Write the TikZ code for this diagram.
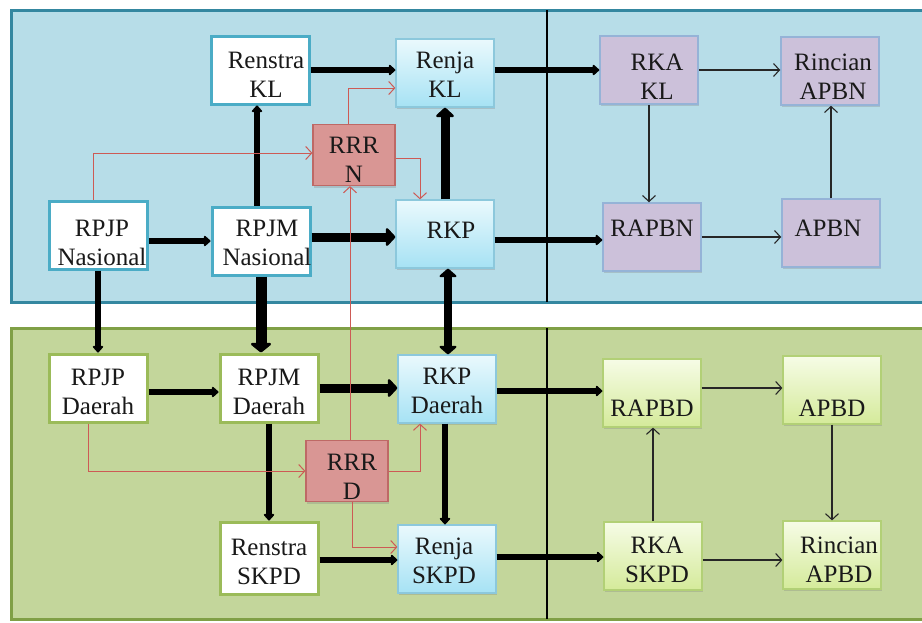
\documentclass[tikz,border=0pt]{standalone}
\usepackage{fontspec}
\setmainfont{Liberation Serif}
\usetikzlibrary{arrows.meta,shadows}

\definecolor{panelblue}{RGB}{183,221,232}
\definecolor{panelblueline}{RGB}{52,135,160}
\definecolor{panelgreen}{RGB}{195,214,155}
\definecolor{panelgreenline}{RGB}{128,160,70}
\definecolor{tealline}{RGB}{75,172,198}
\definecolor{greenline}{RGB}{155,187,89}
\definecolor{skytop}{RGB}{234,249,253}
\definecolor{skybot}{RGB}{166,226,244}
\definecolor{skyline}{RGB}{140,200,220}
\definecolor{lilac}{RGB}{204,193,218}
\definecolor{lilacline}{RGB}{149,179,215}
\definecolor{limetop}{RGB}{246,252,230}
\definecolor{limebot}{RGB}{212,234,154}
\definecolor{limeline}{RGB}{178,208,118}
\definecolor{rose}{RGB}{217,150,148}
\definecolor{roseline}{RGB}{190,105,102}
\definecolor{redline}{RGB}{205,90,85}

\tikzset{
  box/.style={minimum width=98pt, minimum height=68pt, inner sep=0pt},
  txt/.style={align=center, text=black!90, font=\fontsize{25}{29}\selectfont},
  wboxN/.style={box, fill=white, draw=tealline, line width=3pt},
  wboxD/.style={box, fill=white, draw=greenline, line width=3pt},
  skybox/.style={box, top color=skytop, bottom color=skybot, draw=skyline, line width=1.2pt,
    drop shadow={shadow xshift=1pt, shadow yshift=-2pt, opacity=.3}},
  lilacbox/.style={box, fill=lilac, draw=lilacline, line width=1.5pt,
    drop shadow={shadow xshift=1pt, shadow yshift=-2pt, opacity=.3}},
  limebox/.style={box, top color=limetop, bottom color=limebot, draw=limeline, line width=1.2pt,
    drop shadow={shadow xshift=1pt, shadow yshift=-2pt, opacity=.3}},
  rosebox/.style={box, minimum width=82pt, minimum height=61pt, fill=rose, draw=roseline, line width=1.2pt,
    drop shadow={shadow xshift=1pt, shadow yshift=-2pt, opacity=.3}},
  arr/.style={line width=6pt, -{Triangle[length=7pt,width=12pt,round]}},
  bigarr/.style={line width=9pt, -{Triangle[length=10pt,width=21pt,round]}},
  thinarr/.style={line width=1.1pt, draw=black!85, -{Straight Barb[length=6pt,width=13pt]}},
  redarr/.style={line width=1pt, draw=redline, -{Straight Barb[length=6pt,width=13pt]}},
}

\begin{document}
\begin{tikzpicture}[x=1pt, y=-1pt]
\useasboundingbox (0,0) rectangle (922,622);
\clip (0,0) rectangle (922,622);

% panels
\draw[fill=panelblue, draw=panelblueline, line width=3pt] (11,10) rectangle (930,302);
\draw[fill=panelgreen, draw=panelgreenline, line width=3pt] (11,328) rectangle (930,619);
\draw[line width=1.4pt] (547,10) -- (547,302);
\draw[line width=1.4pt] (547,328) -- (547,619);

% nasional
\node[wboxN, label={[txt,xshift=6pt,yshift=-5pt]center:{Renstra\\KL}}] (renstraKL) at (260,70) {};
\node[wboxN, label={[txt,xshift=4pt,yshift=-8pt]center:{RPJP\\Nasional}}] (rpjpN) at (98,235) {};
\node[wboxN, label={[txt,xshift=6pt,yshift=-2pt]center:{RPJM\\Nasional}}] (rpjmN) at (261,241) {};
\node[rosebox, label={[txt,yshift=-5pt]center:{RRR\\N}}] (rrrN) at (354,155) {};
\node[skybox, label={[txt,yshift=-2pt]center:{Renja\\KL}}] (renjaKL) at (445,73) {};
\node[skybox, label={[txt,xshift=6pt,yshift=4pt]center:{RKP}}] (rkp) at (445,234) {};
\node[lilacbox, label={[txt,xshift=8pt,yshift=-7pt]center:{RKA\\KL}}] (rkaKL) at (649,70) {};
\node[lilacbox, label={[txt,xshift=3pt,yshift=-6pt]center:{Rincian\\APBN}}] (rincianAPBN) at (830,71) {};
\node[lilacbox, label={[txt,yshift=9pt]center:{RAPBN}}] (rapbn) at (652,237) {};
\node[lilacbox, label={[txt,xshift=-3pt,yshift=5pt]center:{APBN}}] (apbn) at (831,233) {};

% daerah
\node[wboxD, label={[txt,yshift=-4pt]center:{RPJP\\Daerah}}] (rpjpD) at (98,388) {};
\node[wboxD, label={[txt,yshift=-4pt]center:{RPJM\\Daerah}}] (rpjmD) at (269,388) {};
\node[rosebox, label={[txt,xshift=5pt,yshift=-6pt]center:{RRR\\D}}] (rrrD) at (347,471) {};
\node[wboxD, minimum height=72pt, label={[txt,yshift=-4pt]center:{Renstra\\SKPD}}] (renstraSKPD) at (269,558) {};
\node[skybox, label={[txt,yshift=-2pt]center:{RKP\\Daerah}}] (rkpD) at (447,389) {};
\node[skybox, label={[txt,xshift=-3pt,yshift=-2pt]center:{Renja\\SKPD}}] (renjaSKPD) at (447,559) {};
\node[limebox, label={[txt,yshift=-15pt]center:{RAPBD}}] (rapbd) at (652,393) {};
\node[limebox, label={[txt,yshift=-18pt]center:{APBD}}] (apbd) at (832,390) {};
\node[limebox, label={[txt,xshift=4pt,yshift=-4pt]center:{RKA\\SKPD}}] (rkaSKPD) at (653,556) {};
\node[limebox, label={[txt,xshift=7pt,yshift=-5pt]center:{Rincian\\APBD}}] (rincianAPBD) at (832,555) {};

% thick flow
\draw[arr] (renstraKL.east) -- (renstraKL.east -| renjaKL.west);
\draw[arr] ([xshift=-4pt]rpjmN.north) -- ([xshift=-4pt]rpjmN.north |- renstraKL.south);
\draw[arr] (rpjpN.east |- rpjmN.west) -- (rpjmN.west);
\draw[bigarr] ([yshift=4pt]rpjmN.east) -- ([yshift=4pt]rpjmN.east -| rkp.west);
\draw[bigarr] (rkp.north) -- (renjaKL.south);
\draw[arr] (renjaKL.east |- rkaKL.west) -- (rkaKL.west);
\draw[arr] ([yshift=-6pt]rkp.east) -- ([yshift=-6pt]rkp.east -| rapbn.west);
\draw[arr] (rpjpN.south) -- (rpjpD.north);
\draw[line width=11pt, -{Triangle[length=10pt,width=24pt,round]}] (rpjmN.south) -- (rpjmN.south |- rpjmD.north);
\draw[line width=8pt, {Triangle[length=9pt,width=20pt,round]}-{Triangle[length=9pt,width=20pt,round]}] ([xshift=3pt]rkp.south) -- ([xshift=3pt]rkp.south |- rkpD.north);
\draw[arr] ([yshift=-4pt]rpjpD.east) -- ([yshift=-4pt]rpjpD.east -| rpjmD.west);
\draw[bigarr] (rpjmD.east) -- (rpjmD.east -| rkpD.west);
\draw[arr] (rpjmD.south) -- (rpjmD.south |- renstraSKPD.north);
\draw[arr] ([xshift=-2pt]rkpD.south) -- ([xshift=-2pt]rkpD.south |- renjaSKPD.north);
\draw[arr] ([yshift=-2pt]renstraSKPD.east) -- ([yshift=-2pt]renstraSKPD.east -| renjaSKPD.west);
\draw[arr] ([yshift=-2pt]rkpD.east) -- ([yshift=-2pt]rkpD.east -| rapbd.west);
\draw[arr] ([yshift=2pt]renjaSKPD.east) -- ([yshift=2pt]renjaSKPD.east -| rkaSKPD.west);

% anggaran
\draw[thinarr] (rkaKL.east) -- (rkaKL.east -| rincianAPBN.west);
\draw[thinarr] (rkaKL.south) -- (rkaKL.south |- rapbn.north);
\draw[thinarr] (rapbn.east) -- (rapbn.east -| apbn.west);
\draw[thinarr] (apbn.north) -- (apbn.north |- rincianAPBN.south);
\draw[thinarr] ([yshift=5pt]rapbd.east) -- ([yshift=5pt]rapbd.east -| apbd.west);
\draw[thinarr] (apbd.south) -- (apbd.south |- rincianAPBD.north);
\draw[thinarr] (rkaSKPD.north) -- (rkaSKPD.north |- rapbd.south);
\draw[thinarr] ([yshift=-4pt]rkaSKPD.east) -- ([yshift=-4pt]rkaSKPD.east -| rincianAPBD.west);

% RRR links
\draw[redarr] ([xshift=-5pt]rpjpN.north) |- ([yshift=2pt]rrrN.west);
\draw[redarr] ([xshift=-6pt]rrrN.north) |- ([yshift=-15pt]renjaKL.west);
\draw[redarr] ([yshift=-3pt]rrrN.east) -| ([xshift=-25pt]rkp.north);
\draw[redarr] ([xshift=3pt]rrrD.north) -- ([xshift=3pt]rrrD.north |- rrrN.south);
\draw[redarr] ([xshift=-10pt]rpjpD.south) |- (rrrD.west);
\draw[redarr] (rrrD.east) -| ([xshift=-27pt]rkpD.south);
\draw[redarr] ([xshift=5pt]rrrD.south) |- ([yshift=12pt]renjaSKPD.west);
\end{tikzpicture}
\end{document}
